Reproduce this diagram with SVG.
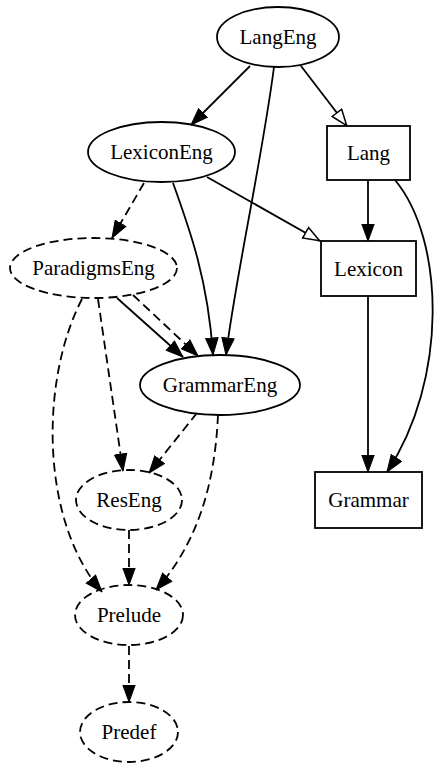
<svg xmlns="http://www.w3.org/2000/svg" width="435" height="763" viewBox="0 0 435 763">
<style>
  .n ellipse, .n rect { fill: none; stroke: #000; stroke-width: 1.8; }
  .d ellipse { stroke-dasharray: 9,5; }
  text { font-family: "Liberation Serif", "Times New Roman", serif; font-size: 21px; text-anchor: middle; fill: #000; }
  .e path { fill: none; stroke: #000; stroke-width: 1.8; }
  .e .f { marker-end: url(#filled); }
  .e .o { marker-end: url(#open); }
  .e .dash { stroke-dasharray: 9,5; }
</style>
<defs>
  <marker id="filled" viewBox="0 0 18 14" refX="17.5" refY="7" markerWidth="18" markerHeight="14" markerUnits="userSpaceOnUse" orient="auto">
    <path d="M0.5,0.8 L17.5,7 L0.5,13.2 z" fill="#000" stroke="#000" stroke-width="1"/>
  </marker>
  <marker id="open" viewBox="0 0 18 14" refX="17.5" refY="7" markerWidth="18" markerHeight="14" markerUnits="userSpaceOnUse" orient="auto">
    <path d="M0.9,1 L17,7 L0.9,13 z" fill="#fff" stroke="#000" stroke-width="1.5"/>
  </marker>
</defs>
<rect width="435" height="763" fill="#fff"/>
<g id="edges" class="e">
  <path class="f" d="M250,66 L191,125"/>
  <path class="f" d="M274,67 C262,160 235,280 226,355"/>
  <path class="o" d="M301,66 L347,126"/>
  <path class="f" d="M173,183 C190,230 208,280 213,355"/>
  <path class="o" d="M207,177 L320,241"/>
  <path class="f" d="M368,180 L368,241"/>
  <path class="f" d="M395,180 C445,240 448,380 387,472"/>
  <path class="f" d="M368,296 L368,472"/>
  <path class="f dash" d="M144,183 L112,238"/>
  <path class="f" d="M117,298 L183,357"/>
  <path class="f dash" d="M133,295 L198,356"/>
  <path class="f dash" d="M98,299 L123,471"/>
  <path class="f dash" d="M82,299 C40,380 40,520 102,592"/>
  <path class="f dash" d="M197,413 L149,473"/>
  <path class="f dash" d="M218,415 C215,480 200,540 156,590"/>
  <path class="f dash" d="M129,530 L129,585"/>
  <path class="f dash" d="M129,646 L129,702"/>
</g>
<g id="LangEng" class="n"><ellipse cx="278" cy="37" rx="61" ry="30"/><text x="278" y="44">LangEng</text></g>
<g id="Lang" class="n"><rect x="327" y="126" width="83" height="54"/><text x="368.5" y="160">Lang</text></g>
<g id="LexiconEng" class="n"><ellipse cx="161.5" cy="152" rx="73.5" ry="30"/><text x="161.5" y="159">LexiconEng</text></g>
<g id="Lexicon" class="n"><rect x="321" y="241" width="95" height="55"/><text x="368.5" y="275.5">Lexicon</text></g>
<g id="ParadigmsEng" class="n d"><ellipse cx="93.5" cy="268" rx="83.5" ry="30"/><text x="93.5" y="275">ParadigmsEng</text></g>
<g id="GrammarEng" class="n"><ellipse cx="220" cy="385" rx="80" ry="30"/><text x="220" y="392">GrammarEng</text></g>
<g id="Grammar" class="n"><rect x="315" y="472" width="107" height="56"/><text x="368.5" y="507">Grammar</text></g>
<g id="ResEng" class="n d"><ellipse cx="129" cy="500" rx="53" ry="30"/><text x="129" y="507">ResEng</text></g>
<g id="Prelude" class="n d"><ellipse cx="129" cy="615" rx="54" ry="30"/><text x="129" y="622">Prelude</text></g>
<g id="Predef" class="n d"><ellipse cx="129" cy="732" rx="49" ry="30"/><text x="129" y="739">Predef</text></g>
</svg>
